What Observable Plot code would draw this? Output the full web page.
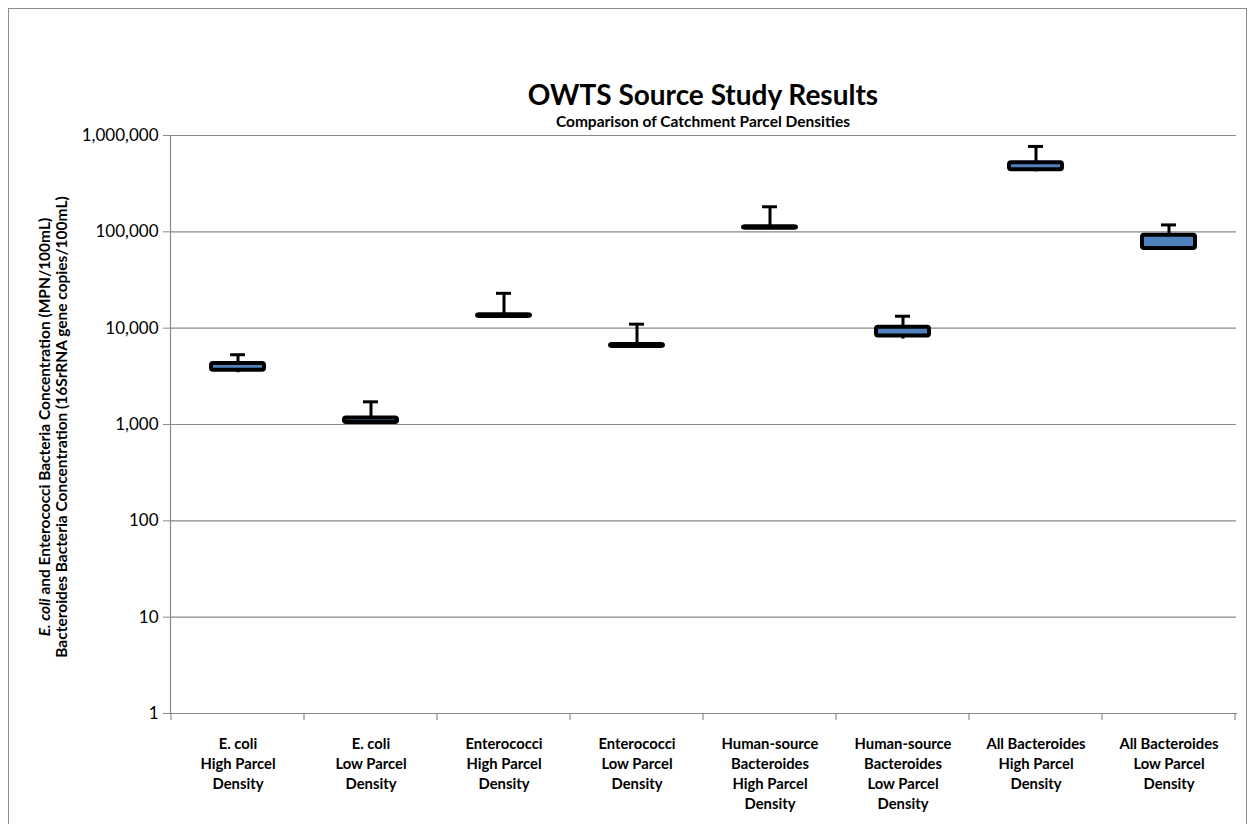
<!DOCTYPE html>
<html>
<head>
<meta charset="utf-8">
<script src="https://cdn.jsdelivr.net/npm/d3@7"></script>
<script src="https://cdn.jsdelivr.net/npm/@observablehq/plot@0.6"></script>
<style>
  body { margin: 0; background: #fff; font-family: Lato, "Open Sans", sans-serif; color: #000; }
  #wrap { position: relative; width: 1250px; height: 824px; overflow: hidden; }
  #frame { position: absolute; left: 8px; top: 8px; width: 1237px; height: 840px; border: 1px solid #8c8c8c; }
  #title { position: absolute; left: 170px; width: 1066px; top: 77px; text-align: center; font-weight: bold; font-size: 28px; line-height: 34px; }
  #subtitle { position: absolute; left: 170px; width: 1066px; top: 111px; text-align: center; font-weight: bold; font-size: 15.5px; line-height: 20px; }
  #ylabel { position: absolute; left: 53px; top: 427px; width: 700px; transform: translate(-50%, -50%) rotate(-90deg); text-align: center; font-weight: bold; font-size: 15.5px; line-height: 17px; white-space: nowrap; }
  #chart { position: absolute; left: 0; top: 0; }
</style>
</head>
<body>
<div id="wrap">
  <div id="frame"></div>
  <div id="chart"></div>
  <div id="title">OWTS Source Study Results</div>
  <div id="subtitle">Comparison of Catchment Parcel Densities</div>
  <div id="ylabel"><i>E. coli</i> and Enterococci Bacteria Concentration (MPN/100mL)<br>Bacteroides Bacteria Concentration (16SrRNA gene copies/100mL)</div>
</div>
<script>
const categories = ["ecH", "ecL", "enH", "enL", "hbH", "hbL", "abH", "abL"];
const labels = [
  "E. coli\nHigh Parcel\nDensity",
  "E. coli\nLow Parcel\nDensity",
  "Enterococci\nHigh Parcel\nDensity",
  "Enterococci\nLow Parcel\nDensity",
  "Human-source\nBacteroides\nHigh Parcel\nDensity",
  "Human-source\nBacteroides\nLow Parcel\nDensity",
  "All Bacteroides\nHigh Parcel\nDensity",
  "All Bacteroides\nLow Parcel\nDensity"
];
const mins = [3450, 1000, 13000, 6400, 108000, 7700, 420000, 64000];
const q1s  = [3650, 1050, 13200, 6450, 109000, 8300, 440000, 67000];
const q3s  = [4300, 1170, 13800, 6750, 113000, 10200, 520000, 92000];
const maxs = [5300, 1720, 23000, 11000, 182000, 13300, 770000, 118000];
const yTicks = [1, 10, 100, 1000, 10000, 100000, 1000000];

const data = categories.map((c, i) => ({cat: c, min: mins[i], q1: q1s[i], q3: q3s[i], max: maxs[i]}));
const labelOf = Object.fromEntries(categories.map((c, i) => [c, labels[i]]));
const gray = "#8a8a8a";

const chart = Plot.plot({
  width: 1250,
  height: 824,
  marginTop: 135,
  marginBottom: 111,
  marginLeft: 170,
  marginRight: 14,
  style: { background: "transparent", fontFamily: "Lato, 'Open Sans', sans-serif", color: "#000" },
  x: { type: "band", domain: categories, padding: 0 },
  y: { type: "log", domain: [1, 1000000] },
  marks: [
    Plot.gridY(yTicks, { stroke: gray, strokeOpacity: 1, strokeWidth: 1.2 }),
    Plot.frame({ anchor: "left", stroke: gray, strokeWidth: 1.2 }),
    Plot.frame({ anchor: "bottom", stroke: gray, strokeWidth: 1.2 }),
    Plot.axisY(yTicks, { tickFormat: d3.format(","), tickSize: 7, tickPadding: 5, fontSize: 17, stroke: gray, label: null }),
    Plot.axisX({ tickSize: 0, tickPadding: 21, tickFormat: d => labelOf[d], fontSize: 14.8, fontWeight: "bold", lineHeight: 1.36, label: null }),
    Plot.ruleX(data, { x: "cat", y1: "min", y2: "q1", stroke: "#000", strokeWidth: 3 }),
    Plot.ruleX(data, { x: "cat", y1: "q3", y2: "max", stroke: "#000", strokeWidth: 3 }),
    Plot.tickY(data, { x: "cat", y: "max", stroke: "#000", strokeWidth: 3, insetLeft: 59, insetRight: 59 }),
    Plot.rect(data, { x: "cat", y1: "q1", y2: "q3", fill: "#4f81bd", stroke: "#000", strokeWidth: 4, insetLeft: 40, insetRight: 40, rx: 2 })
  ]
});

// category boundary ticks on the x axis, from Plot's own x scale
const xs = chart.scale("x");
const ys = chart.scale("y");
const y0 = ys.apply(1);
const bounds = categories.map(c => xs.apply(c)).concat([xs.apply(categories[categories.length - 1]) + xs.bandwidth]);
d3.select(chart).append("g")
  .selectAll("line").data(bounds).join("line")
  .attr("x1", d => d).attr("x2", d => d)
  .attr("y1", y0).attr("y2", y0 + 7)
  .attr("stroke", gray).attr("stroke-width", 1.2);

document.getElementById("chart").appendChild(chart);
</script>
</body>
</html>
